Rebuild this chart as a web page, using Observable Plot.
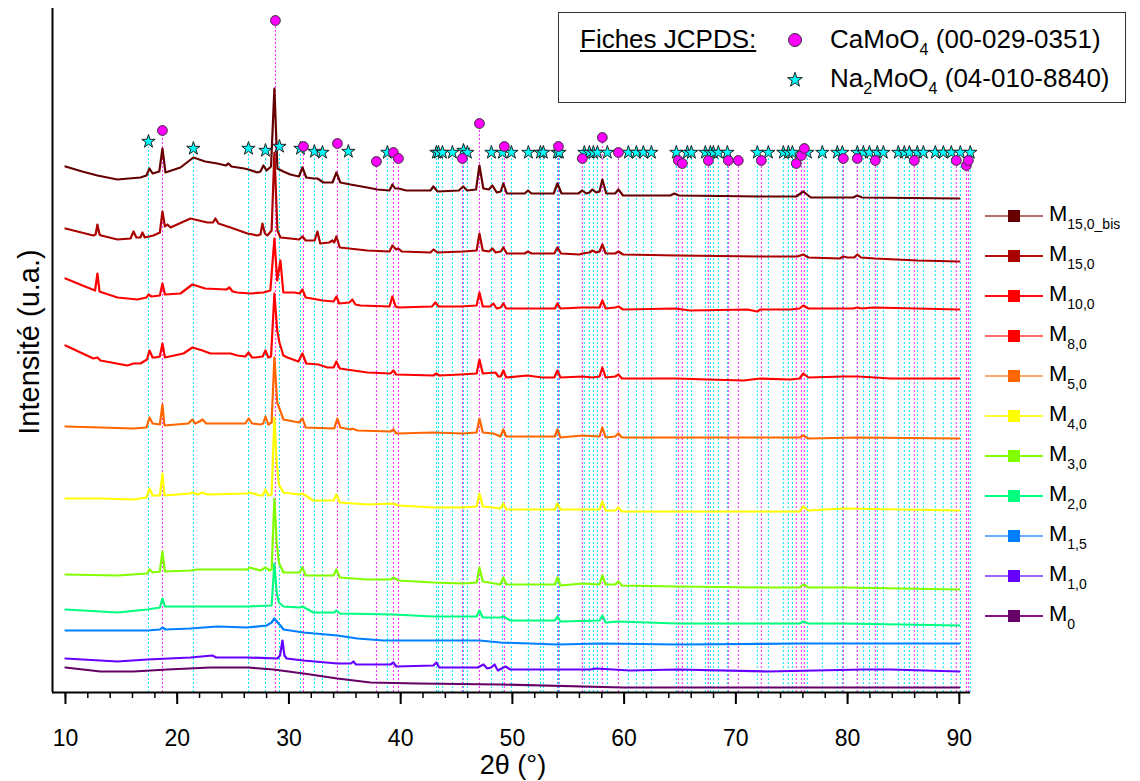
<!DOCTYPE html>
<html><head><meta charset="utf-8">
<script src="https://cdn.jsdelivr.net/npm/d3@7"></script>
<script src="https://cdn.jsdelivr.net/npm/@observablehq/plot@0.6"></script>
<style>
body{margin:0;background:#fff;}
#wrap{position:relative;width:1140px;height:781px;font-family:Arial,"Liberation Sans",sans-serif;color:#000;overflow:hidden;}
#chart svg{display:block}
.abs{position:absolute;white-space:nowrap;}
sub{font-size:0.62em;vertical-align:-0.45em;line-height:0}
</style></head><body>
<div id="wrap"><div id="chart"></div></div>
<script>
// 2θ (°) and intensity (u.a., stacked offsets)
const m15bis = [[10,526],[11.5,521],[12.86,517],[14.65,513],[16.71,515],[17.25,517],[17.52,524],[17.8,519],[18.4,521],[18.68,544],[18.95,520],[20.29,525],[21.45,535],[22.5,531],[23.6,529],[24.35,527],[24.59,529],[24.85,526],[26.0,524],[26.38,523],[27.18,520],[27.45,521],[27.72,527],[28.0,522],[28.4,526],[28.7,604],[28.97,524],[29.5,521],[30.13,518],[30.9,516],[31.21,525],[31.55,515],[32.2,514],[32.55,514],[33.09,510],[33.9,510],[34.25,520],[34.6,510],[35.5,508],[37.0,505],[37.92,503],[39.0,502],[39.26,508],[39.5,504],[39.8,504],[40.5,502],[42.66,502],[42.93,506],[43.3,501],[45.2,502],[45.6,506],[45.95,502],[46.75,503],[47.05,527],[47.4,504],[47.9,503],[48.21,507],[48.6,500],[48.95,501],[49.19,509],[49.5,499],[51.1,499],[51.4,502],[51.7,499],[53.7,499],[54.03,509],[54.4,499],[55.9,499],[56.26,502],[56.6,499],[56.9,500],[57.16,503],[57.5,500],[57.8,501],[58.05,513],[58.4,499],[59.2,499],[59.49,503],[59.9,497],[64.14,497],[64.5,499],[64.9,497],[72.19,496],[75.4,496],[76.04,501],[76.7,495],[80.5,495],[80.87,497],[81.3,495],[90,494]];
const m150 = [[10,464],[12.5,457],[12.7,458],[12.86,468],[13.05,458],[13.2,457],[14.65,453],[15.82,454],[16.09,461],[16.35,455],[16.7,455],[16.89,460],[17.1,455],[17.87,457],[18.45,460],[18.68,481],[18.9,466],[19.13,468],[19.4,465],[21.19,474],[22.71,470],[23.2,470],[23.42,474],[23.69,469],[24.77,465],[26.29,459],[27.18,457],[27.45,458],[27.63,469],[27.85,459],[28.08,457],[28.45,462],[28.7,540],[28.97,462],[29.24,455],[30.13,454],[30.9,453],[31.21,456],[31.5,452],[32.3,452],[32.55,461],[32.8,449],[33.6,450],[33.89,452],[34.05,450],[34.25,456],[34.55,445],[37.02,442],[39.0,441],[39.26,447],[39.6,443],[39.8,444],[40.1,441],[42.66,440],[42.95,443],[43.3,440],[45.62,441],[46.8,442],[47.05,459],[47.35,442],[47.9,441],[48.21,444],[48.5,440],[48.95,441],[49.19,445],[49.5,439],[51.1,439],[51.4,441],[51.7,439],[53.75,439],[54.03,445],[54.35,439],[56.0,438],[56.26,439],[56.9,440],[57.16,442],[57.5,440],[57.8,441],[58.05,448],[58.35,439],[59.2,439],[59.49,441],[59.9,438],[64.77,437],[72.19,436],[75.5,436],[76.04,438],[76.5,435],[79.3,434],[79.62,436],[80.0,435],[80.6,435],[80.87,438],[81.2,435],[82.48,434],[86.24,432],[90,431]];
const m100 = [[10,414],[11.97,405],[12.65,402],[12.86,419],[13.05,401],[13.3,400],[14.65,395],[16.44,393],[17.25,395],[17.43,398],[17.7,396],[18.45,397],[18.68,409],[18.9,398],[20.29,399],[21.36,408],[22.5,404],[24.4,403],[24.68,405],[24.95,401],[25.39,400],[26.55,399],[27.72,400],[28.34,402],[28.7,454],[28.95,412],[29.24,432],[29.5,400],[30.5,400],[30.95,399],[31.21,403],[31.5,395],[32.55,393],[33.0,392],[34.0,391],[34.25,396],[34.5,389],[35.4,390],[35.68,393],[35.95,388],[36.4,387],[39.0,386],[39.26,396],[39.55,386],[39.8,385],[42.8,386],[43.11,390],[43.4,386],[45.35,386],[46.8,387],[47.05,400],[47.35,386],[48.0,386],[48.3,389],[48.6,384],[48.95,385],[49.19,389],[49.45,384],[53.8,384],[54.03,389],[54.3,384],[56.26,385],[57.16,385],[57.8,385],[58.05,392],[58.35,384],[59.2,385],[59.49,386],[59.9,383],[64.59,384],[65.93,382],[71.03,383],[71.92,381],[72.19,383],[74.88,383],[75.7,384],[76.04,387],[76.5,384],[80.5,384],[80.87,385],[81.3,384],[82.3,385],[90,383]];
const m80 = [[10,347],[12.5,334],[12.86,335],[13.13,332],[15.55,327],[16.09,329],[16.71,329],[17.3,333],[17.52,342],[17.8,335],[18.05,335],[18.45,336],[18.68,349],[18.9,335],[20.56,339],[21.36,345],[22.26,342],[22.98,339],[24.77,339],[25.39,337],[26.1,336],[26.38,340],[26.7,335],[27.0,335],[27.65,336],[27.9,342],[28.15,335],[28.4,336],[28.7,399],[28.95,362],[29.15,350],[29.5,337],[29.87,335],[30.85,331],[31.21,339],[31.55,329],[32.64,328],[33.45,325],[34.0,325],[34.25,331],[34.55,324],[37.02,320],[39.08,319],[39.35,322],[39.6,318],[42.93,317],[43.2,319],[43.45,317],[45.35,318],[46.8,319],[47.05,333],[47.35,319],[48.48,320],[48.75,316],[48.95,316],[49.19,322],[49.45,315],[51.34,317],[52.68,315],[53.75,315],[54.03,322],[54.3,315],[56.26,316],[57.16,315],[57.8,316],[58.05,325],[58.35,315],[59.2,316],[59.49,318],[59.8,314],[64.77,314],[67.54,313],[70.67,312],[72.19,314],[74.88,313],[75.7,314],[76.04,319],[76.5,315],[79.62,316],[80.87,316],[82.48,315],[83.83,314],[90,314]];
const m50 = [[10,266],[13.13,265],[16.09,264],[17.25,265],[17.52,275],[17.8,269],[18.45,268],[18.68,288],[18.86,267],[21.0,269],[21.36,273],[21.6,269],[22.0,271],[22.26,273],[22.6,269],[26.1,269],[26.4,274],[26.7,269],[27.45,268],[27.7,269],[27.9,276],[28.15,268],[28.45,270],[28.7,335],[28.95,290],[29.15,284],[29.51,273],[30.9,270],[31.21,274],[31.5,265],[34.05,264],[34.34,274],[34.6,265],[35.5,263],[35.68,264],[36.13,262],[39.1,261],[39.35,263],[39.6,259],[42.93,260],[45.62,259],[46.8,260],[47.05,274],[47.35,260],[48.3,259],[48.93,256],[49.19,263],[49.45,256],[53.8,256],[54.03,263],[54.3,255],[56.26,257],[57.8,256],[58.05,265],[58.35,255],[59.2,256],[59.49,259],[59.8,255],[64.77,255],[72.19,255],[75.7,255],[76.04,257],[76.5,254],[80.87,255],[90,254]];
const m40 = [[10,194],[13.13,194],[16.09,193],[17.25,195],[17.52,204],[17.8,197],[18.45,197],[18.68,219],[18.86,197],[21.19,199],[21.36,200],[21.81,198],[22.26,200],[22.71,198],[26.2,199],[26.47,200],[27.45,197],[27.65,197],[27.9,203],[28.15,197],[28.45,198],[28.7,275],[28.9,230],[29.1,208],[29.51,200],[30.9,198],[31.21,199],[32.19,192],[34.0,192],[34.25,198],[34.55,190],[37.02,188],[39.35,189],[39.8,187],[42.93,185],[45.62,185],[46.8,186],[47.05,199],[47.35,186],[48.93,184],[49.19,189],[49.45,183],[53.8,183],[54.03,189],[54.3,183],[57.8,183],[58.05,191],[58.35,182],[59.2,182],[59.49,185],[59.8,181],[64.77,181],[75.7,181],[76.04,186],[76.5,182],[79.62,184],[90,182]];
const m30 = [[10,118],[14.65,117],[17.3,119],[17.52,123],[17.8,120],[18.45,121],[18.68,141],[18.9,121],[21.19,122],[21.81,123],[26.29,123],[26.47,125],[27.45,122],[27.9,125],[28.26,122],[28.45,123],[28.7,194],[28.9,150],[29.1,130],[29.51,120],[30.95,120],[31.21,125],[31.5,117],[32.19,117],[34.0,117],[34.25,123],[34.55,115],[37.02,113],[39.1,113],[39.35,115],[39.8,112],[42.93,110],[45.62,109],[46.8,110],[47.05,125],[47.35,111],[48.93,108],[49.19,115],[49.45,108],[53.8,108],[54.03,115],[54.3,107],[56.26,109],[57.8,108],[58.05,117],[58.35,108],[59.2,108],[59.49,111],[59.8,107],[64.77,106],[72.19,105],[75.7,105],[76.04,108],[76.5,105],[79.62,105],[90,103]];
const m20 = [[10,83],[14.65,80],[17.34,83],[18.45,85],[18.68,94],[18.9,86],[21.19,86],[26.29,86],[28.45,87],[28.7,129],[28.9,100],[29.1,90],[29.51,86],[31.0,85],[31.21,86],[32.19,80],[34.05,80],[34.25,82],[34.55,79],[39.35,78],[42.93,76],[46.8,76],[47.05,82],[47.35,75],[48.93,75],[49.19,76],[49.82,72],[53.8,72],[54.03,76],[54.3,71],[57.8,72],[58.05,77],[58.35,70],[59.49,71],[64.77,69],[75.7,69],[76.04,71],[76.5,69],[79.62,69],[90,67]];
const m15 = [[10,62],[14.65,62],[17.34,62],[18.45,63],[18.68,65],[18.95,63],[21.19,64],[23.6,66],[26.29,65],[28.0,67],[28.45,70],[28.7,74],[29.0,70],[29.24,67],[29.51,63],[31.3,60],[34.34,57],[36.13,54],[38.46,52],[47.05,52],[48.93,50],[54.03,48],[58.05,49],[64.77,48],[76.04,49],[90,49]];
const m10 = [[10,34],[14.65,31],[17.34,33],[21.19,35],[23.15,37],[23.5,35],[26.29,35],[28.97,34],[29.2,37],[29.42,52],[29.6,37],[29.8,34],[31.3,32],[34.34,29],[35.55,29],[35.77,31],[36.0,28],[39.08,28],[39.35,30],[39.6,26],[42.93,27],[43.2,30],[43.45,25],[46.9,25],[47.41,28],[47.75,24],[48.1,25],[48.4,28],[48.7,22],[49.38,26],[49.82,23],[56.98,23],[57.43,24],[60.56,22],[64.77,23],[72.82,21],[81.41,23],[83.83,23],[90,21]];
const m0 = [[10,25],[13.13,21],[16.09,21],[19.13,23],[22.98,25],[26.29,25],[28.61,23],[31.3,19],[34.34,14],[37.29,10],[41.5,9],[48.93,8],[59.93,5],[90,5]];

// legend labels (subscripts) and colours
const seriesNames = ["15,0_bis","15,0","10,0","8,0","5,0","4,0","3,0","2,0","1,5","1,0","0"];
const seriesColors = ["#660000","#aa0000","#ff0000","#ff0000","#ff6600","#ffff00","#80ff00","#00ff80","#0080ff","#6600ff","#660066"];
const legendLineColors = ["#b07070","#b01010","#ff1010","#ff6a6a","#ffaa70","#ffff30","#80ff00","#00ff80","#66b0ff","#9966ff","#881088"];
const seriesData = [m15bis,m150,m100,m80,m50,m40,m30,m20,m15,m10,m0];

// JCPDS reference positions (2θ) and marker heights
const caMoO4 = [[18.68,562],[28.79,672],[31.30,546],[34.34,549],[37.83,531],[39.35,540],[39.80,534],[45.53,534],[47.05,569],[49.28,546],[54.12,546],[56.26,534],[58.05,555],[59.49,540],[64.85,532],[65.21,529],[67.54,532],[69.33,532],[70.22,532],[72.28,532],[75.41,529],[75.86,537],[76.13,544],[79.62,534],[80.87,534],[82.48,532],[85.97,532],[89.73,532],[90.63,527],[90.81,532]];
const na2MoO4 = [[17.43,551],[21.45,544],[26.38,544],[27.90,542],[29.15,546],[31.03,544],[32.28,541],[33.00,540],[35.32,541],[38.81,540],[43.20,540],[43.38,540],[43.74,540],[44.63,540],[45.62,542],[45.97,540],[48.12,540],[49.11,540],[49.91,540],[51.43,540],[52.51,540],[52.77,540],[54.03,540],[54.21,540],[56.44,540],[56.89,540],[57.25,540],[57.61,540],[58.50,540],[60.38,540],[61.10,540],[61.72,540],[62.44,540],[64.67,540],[65.66,540],[66.02,540],[67.27,540],[67.72,540],[67.99,540],[68.43,540],[69.24,540],[71.92,540],[72.91,540],[74.25,540],[74.70,540],[75.06,540],[76.40,540],[77.74,540],[79.08,540],[79.53,540],[80.87,540],[81.41,540],[81.95,540],[82.66,540],[83.20,540],[84.54,540],[85.08,540],[85.53,540],[86.24,540],[86.78,540],[87.85,540],[88.57,540],[89.28,540],[90.09,540],[90.98,540]];

const xTicks = [10,20,30,40,50,60,70,80,90];
const xMinor = d3.range(10, 91, 2);

const traces = seriesData.flatMap((arr, i) => arr.map(([x, y]) => ({x, y, s: seriesNames[i]})));

const plot = Plot.plot({
  width: 1140, height: 781,
  marginLeft: 52, marginRight: 170, marginTop: 8, marginBottom: 89,
  x: {domain: [8.84, 91], label: null},
  y: {domain: [0, 684], axis: null},
  color: {type: "ordinal", domain: seriesNames, range: seriesColors},
  style: {fontFamily: "Arial, 'Liberation Sans', sans-serif", background: "white", color: "black"},
  marks: [
    Plot.ruleX(na2MoO4, {x: d => d[0], y1: 0, y2: d => d[1] - 6, stroke: "#00e8ff", strokeWidth: 1, strokeDasharray: "2,2"}),
    Plot.ruleX(caMoO4, {x: d => d[0], y1: 0, y2: d => d[1] - 5, stroke: "#ff22ff", strokeWidth: 1, strokeDasharray: "2,2"}),
    Plot.line(traces, {x: "x", y: "y", z: "s", stroke: "s", strokeWidth: 2.2, strokeLinejoin: "round"}),
    Plot.dot(na2MoO4, {x: d => d[0], y: d => d[1], symbol: "star", r: 4.2, fill: "#00ffff", stroke: "#222", strokeWidth: 1}),
    Plot.dot(caMoO4, {x: d => d[0], y: d => d[1], r: 4.9, fill: "#ff00ff", stroke: "#333", strokeWidth: 1}),
    Plot.ruleY([0], {stroke: "black", strokeWidth: 2}),
    Plot.ruleX([8.84], {stroke: "black", strokeWidth: 2}),
    Plot.axisX({ticks: xMinor, tickSize: 6, text: null, label: null, strokeWidth: 1.5}),
    Plot.axisX({ticks: xTicks, tickSize: 12, tickPadding: 25, fontSize: 23, label: null, strokeWidth: 2})
  ]
});
document.getElementById("chart").appendChild(plot);

const wrap = document.getElementById("wrap");
function addDiv(html, style){ const d = document.createElement("div"); d.className = "abs"; d.innerHTML = html; Object.assign(d.style, style); wrap.appendChild(d); return d; }

// axis titles
addDiv("2θ (°)", {left: "0px", width: "1026px", textAlign: "center", top: "750px", fontSize: "27px", lineHeight: "30px"});
addDiv("Intensité (u.a.)", {left: "29px", top: "342px", fontSize: "29px", transform: "translate(-50%,-50%) rotate(-90deg)"});

// right legend
const ns = "http://www.w3.org/2000/svg";
seriesNames.forEach((n, i) => {
  const cy = 216 + 40 * i;
  const svg = document.createElementNS(ns, "svg");
  svg.setAttribute("width", 60); svg.setAttribute("height", 16);
  svg.style.position = "absolute"; svg.style.left = "984px"; svg.style.top = (cy - 8) + "px";
  svg.innerHTML = `<line x1="1" x2="59" y1="8" y2="8" stroke="${legendLineColors[i]}" stroke-width="2"/><rect x="24" y="2" width="12" height="12" fill="${seriesColors[i]}"/>`;
  wrap.appendChild(svg);
  addDiv(`M<sub style="font-size:14px;vertical-align:-8px">${n}</sub>`, {left: "1049px", top: (cy - 14) + "px", fontSize: "22px", lineHeight: "24px"});
});

// inset JCPDS legend
addDiv("", {left: "558px", top: "12px", width: "566px", height: "89px", border: "1px solid #333", background: "white"});
addDiv("<u>Fiches JCPDS:</u>", {left: "580px", top: "24px", fontSize: "26px"});
addDiv("CaMoO<sub>4</sub> (00-029-0351)", {left: "830px", top: "24px", fontSize: "26px"});
addDiv("Na<sub>2</sub>MoO<sub>4</sub> (04-010-8840)", {left: "830px", top: "63px", fontSize: "26px"});
const lg = document.createElementNS(ns, "svg");
lg.setAttribute("width", 30); lg.setAttribute("height", 70);
lg.style.position = "absolute"; lg.style.left = "780px"; lg.style.top = "25px";
const starPath = d3.symbol(d3.symbolStar, Math.PI * 4.6 * 4.6)();
lg.innerHTML = `<circle cx="15" cy="15" r="6.5" fill="#ff00ff" stroke="#333" stroke-width="1"/><path d="${starPath}" transform="translate(15,55)" fill="#00ffff" stroke="#222" stroke-width="1"/>`;
wrap.appendChild(lg);
</script>
</body></html>
